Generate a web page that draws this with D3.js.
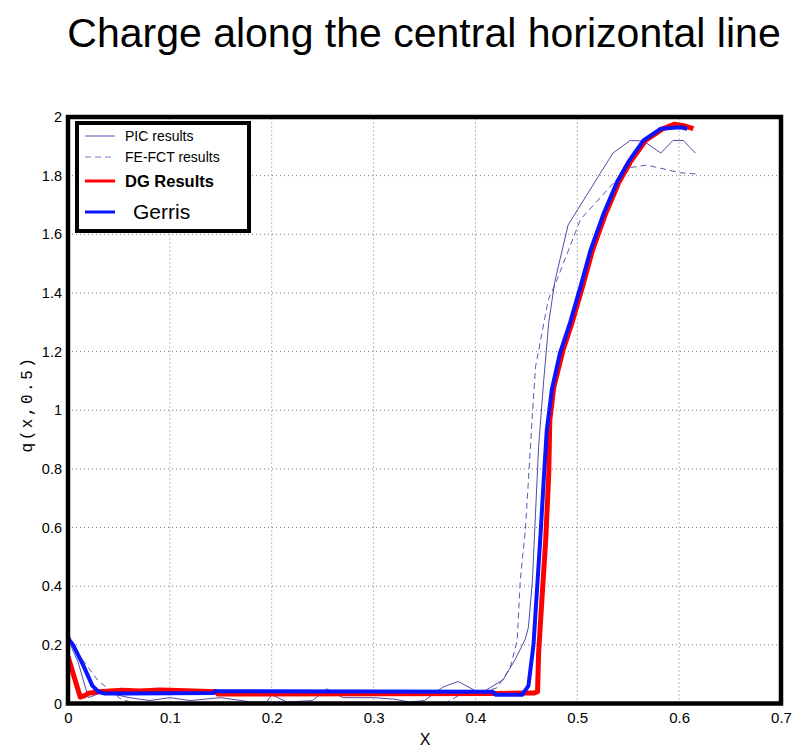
<!DOCTYPE html>
<html lang="en">
<head>
    <meta charset="UTF-8">
    <title>Charge along the central horizontal line</title>
    <style>
        body {
            margin: 0;
            padding: 0;
            background-color: #fff;
        }
        svg {
            display: block;
            font-family: "Liberation Sans", Arial, sans-serif;
        }
    </style>
</head>
<body>
<svg width="796" height="749" id="chart"></svg>

<script src="https://d3js.org/d3.v7.min.js"></script>
<script>
    // values, [x, q]
    const picResults = [
        [0, 0.22], [0.01, 0.14], [0.02, 0.02], [0.035, 0.04], [0.06, 0.02], [0.08, 0.01],
        [0.1, 0.02], [0.12, 0.01], [0.15, 0.02], [0.18, 0.005], [0.195, 0.005], [0.2, 0.03],
        [0.215, 0.005], [0.24, 0.01], [0.254, 0.05], [0.27, 0.02], [0.3, 0.02], [0.32, 0.015],
        [0.335, 0.005], [0.35, 0.01], [0.368, 0.056], [0.383, 0.075], [0.402, 0.04], [0.41, 0.045],
        [0.427, 0.08], [0.439, 0.15], [0.449, 0.22], [0.452, 0.26], [0.456, 0.42], [0.459, 0.65],
        [0.462, 0.875], [0.467, 1.10], [0.472, 1.30], [0.478, 1.44], [0.491, 1.632], [0.535, 1.877],
        [0.552, 1.92], [0.565, 1.918], [0.582, 1.877], [0.594, 1.92], [0.604, 1.92], [0.616, 1.877]
    ];
    const fefctResults = [
        [0, 0.24], [0.01, 0.17], [0.029, 0.08], [0.053, 0.012], [0.07, 0.0], [0.37, 0.0],
        [0.385, 0.03], [0.402, 0.035], [0.421, 0.053], [0.434, 0.12], [0.441, 0.216], [0.444, 0.42],
        [0.449, 0.59], [0.452, 0.76], [0.456, 0.99], [0.459, 1.148], [0.4715, 1.376], [0.48, 1.444],
        [0.503, 1.65], [0.549, 1.826], [0.568, 1.836], [0.601, 1.81], [0.616, 1.806]
    ];
    const dgResults = [
        [0, 0.16], [0.012, 0.022], [0.017, 0.028], [0.02, 0.035], [0.03, 0.04], [0.053, 0.045],
        [0.07, 0.043], [0.09, 0.046], [0.1, 0.045], [0.146, 0.04], [0.147, 0.032], [0.42, 0.034],
        [0.447, 0.036], [0.458, 0.036], [0.461, 0.04], [0.462, 0.17], [0.465, 0.34], [0.469, 0.557],
        [0.472, 0.785], [0.473, 0.965], [0.477, 1.08], [0.486, 1.205], [0.495, 1.30], [0.505, 1.42],
        [0.515, 1.546], [0.528, 1.672], [0.541, 1.778], [0.552, 1.846], [0.567, 1.92], [0.584, 1.96],
        [0.595, 1.975], [0.605, 1.97], [0.614, 1.96]
    ];
    const gerris = [
        [0, 0.223], [0.005, 0.2], [0.015, 0.13], [0.024, 0.06], [0.03, 0.04], [0.036, 0.034],
        [0.06, 0.034], [0.1, 0.035], [0.143, 0.036], [0.144, 0.042], [0.3, 0.041], [0.417, 0.04],
        [0.42, 0.03], [0.446, 0.03], [0.452, 0.06], [0.457, 0.2], [0.459, 0.31], [0.464, 0.58],
        [0.467, 0.76], [0.470, 0.93], [0.475, 1.07], [0.483, 1.195], [0.493, 1.30], [0.503, 1.42],
        [0.513, 1.546], [0.526, 1.672], [0.539, 1.778], [0.55, 1.846], [0.565, 1.92], [0.582, 1.96],
        [0.601, 1.965], [0.608, 1.96]
    ];

    const xTicks = [0, 0.1, 0.2, 0.3, 0.4, 0.5, 0.6, 0.7];
    const yTicks = [0, 0.2, 0.4, 0.6, 0.8, 1, 1.2, 1.4, 1.6, 1.8, 2];
    const legendLabels = ["PIC results", "FE-FCT results", "DG Results", "Gerris"];

    const svg = d3.select("#chart");

    const x = d3.scaleLinear().domain([0, 0.7]).range([68, 781]);
    const y = d3.scaleLinear().domain([0, 2]).range([703.5, 117]);

    // title
    svg.append("text")
        .attr("x", 424)
        .attr("y", 47)
        .attr("text-anchor", "middle")
        .attr("font-size", 41)
        .text("Charge along the central horizontal line");

    // dotted grid
    const grid = svg.append("g")
        .attr("stroke", "#777")
        .attr("stroke-width", 1)
        .attr("stroke-dasharray", "1,3");

    grid.selectAll(".vg")
        .data(xTicks.slice(1, -1))
        .enter().append("line")
        .attr("x1", d => x(d)).attr("x2", d => x(d))
        .attr("y1", y(0)).attr("y2", y(2));

    grid.selectAll(".hg")
        .data(yTicks.slice(1, -1))
        .enter().append("line")
        .attr("x1", x(0)).attr("x2", x(0.7))
        .attr("y1", d => y(d)).attr("y2", d => y(d));

    // axes
    const xAxis = svg.append("g")
        .attr("transform", `translate(0,${y(0)})`)
        .call(d3.axisBottom(x).tickValues(xTicks).tickSize(0).tickPadding(9)
            .tickFormat(d3.format("")));
    xAxis.select(".domain").remove();
    xAxis.selectAll("text").attr("font-size", 15).attr("font-family", "Liberation Sans, Arial");

    const yAxis = svg.append("g")
        .attr("transform", `translate(${x(0)},0)`)
        .call(d3.axisLeft(y).tickValues(yTicks).tickSize(0).tickPadding(6)
            .tickFormat(d3.format("")));
    yAxis.select(".domain").remove();
    yAxis.selectAll("text").attr("font-size", 14.5).attr("font-family", "Liberation Sans, Arial");

    svg.append("text")
        .attr("x", 425)
        .attr("y", 745)
        .attr("text-anchor", "middle")
        .attr("font-size", 16)
        .text("X");

    svg.append("text")
        .attr("transform", "translate(32,404) rotate(-90)")
        .attr("text-anchor", "middle")
        .attr("font-family", "Liberation Mono, Courier New, monospace")
        .attr("font-size", 16)
        .attr("letter-spacing", 2.5)
        .text("q(x,0.5)");

    // curves
    const line = d3.line().x(d => x(d[0])).y(d => y(d[1]));

    svg.append("path").datum(fefctResults)
        .attr("d", line).attr("fill", "none")
        .attr("stroke", "#5b5bb5").attr("stroke-width", 1)
        .attr("stroke-dasharray", "6,4");

    svg.append("path").datum(picResults)
        .attr("d", line).attr("fill", "none")
        .attr("stroke", "#4c4cae").attr("stroke-width", 1);

    svg.append("path").datum(dgResults)
        .attr("d", line).attr("fill", "none")
        .attr("stroke", "#ff0000").attr("stroke-width", 5)
        .attr("stroke-linejoin", "round");

    svg.append("path").datum(gerris)
        .attr("d", line).attr("fill", "none")
        .attr("stroke", "#0a14ff").attr("stroke-width", 4)
        .attr("stroke-linejoin", "round");

    // frame
    svg.append("rect")
        .attr("x", x(0)).attr("y", y(2))
        .attr("width", x(0.7) - x(0)).attr("height", y(0) - y(2))
        .attr("fill", "none")
        .attr("stroke", "#000")
        .attr("stroke-width", 4.5);

    // legend
    const legend = svg.append("g");
    legend.append("rect")
        .attr("x", 77).attr("y", 123)
        .attr("width", 172).attr("height", 108)
        .attr("fill", "#fff")
        .attr("stroke", "#000")
        .attr("stroke-width", 4);

    const legendRows = [
        { y: 136, ty: 141, tx: 125, size: 14, color: "#4c4cae", width: 1, dash: null, weight: "normal" },
        { y: 157, ty: 162, tx: 125, size: 14, color: "#7a7ac8", width: 1, dash: "6,4", weight: "normal" },
        { y: 181, ty: 187, tx: 125, size: 16.5, color: "#ff0000", width: 3, dash: null, weight: "bold" },
        { y: 212, ty: 219, tx: 133, size: 21, color: "#0a14ff", width: 3, dash: null, weight: "normal" }
    ];

    legendRows.forEach((r, i) => {
        legend.append("line")
            .attr("x1", 85).attr("x2", 115)
            .attr("y1", r.y).attr("y2", r.y)
            .attr("stroke", r.color)
            .attr("stroke-width", r.width)
            .attr("stroke-dasharray", r.dash);
        legend.append("text")
            .attr("x", r.tx).attr("y", r.ty)
            .attr("font-size", r.size)
            .attr("font-weight", r.weight)
            .text(legendLabels[i]);
    });
</script>
</body>
</html>
